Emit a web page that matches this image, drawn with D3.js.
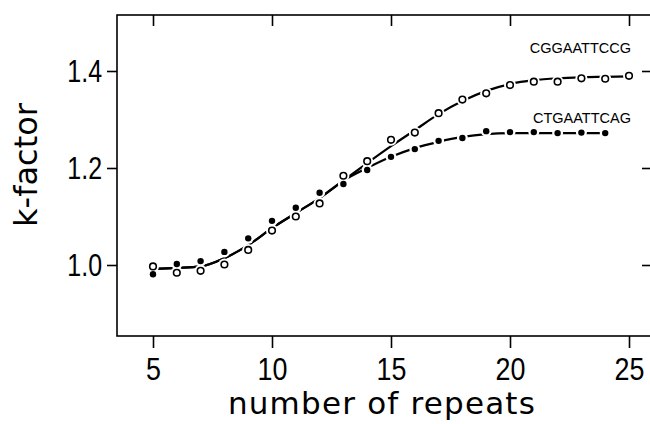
<!DOCTYPE html>
<html><head><meta charset="utf-8">
<script src="https://cdn.jsdelivr.net/npm/d3@7"></script>
<style>body{margin:0;background:#fff}svg{display:block}</style>
</head><body>
<svg id="c" width="650" height="424"></svg>
<script>
// ---- data ----
const repeatsCG = [5,6,7,8,9,10,11,12,13,14,15,16,17,18,19,20,21,22,23,24,25];
const kCG = [0.997,0.984,0.988,1.001,1.031,1.071,1.100,1.127,1.184,1.214,1.258,1.273,1.313,1.341,1.354,1.371,1.378,1.378,1.385,1.384,1.390];
const fitCG = [0.992,0.994,0.997,1.014,1.041,1.076,1.107,1.138,1.174,1.210,1.245,1.278,1.311,1.338,1.359,1.373,1.381,1.385,1.387,1.388,1.389];
const repeatsCT = [5,6,7,8,9,10,11,12,13,14,15,16,17,18,19,20,21,22,23,24];
const kCT = [0.981,1.002,1.008,1.027,1.055,1.091,1.118,1.149,1.167,1.196,1.223,1.239,1.256,1.262,1.276,1.274,1.274,1.272,1.273,1.272];
const fitCT = [0.992,0.994,0.997,1.014,1.041,1.076,1.107,1.138,1.174,1.200,1.223,1.241,1.254,1.264,1.270,1.272,1.272,1.272,1.272,1.272];
const xTicks = [5,10,15,20,25];
const yTicks = [1.0,1.2,1.4];
const labelCG = "CGGAATTCCG", labelCT = "CTGAATTCAG";

// ---- layout ----
const svg = d3.select("#c");
const L = 117, R = 652, T = 15, B = 336;
const x = d3.scaleLinear().domain([5,25]).range([153,629]);
const y = d3.scaleLinear().domain([1.0,1.4]).range([265,71]);
const tickFont = "'Liberation Sans',Arial,sans-serif";

function narrow(sel, f){
  sel.each(function(){
    const w = this.getComputedTextLength();
    d3.select(this).attr("textLength", w*f).attr("lengthAdjust","spacingAndGlyphs");
  });
}

svg.append("rect").attr("x",L).attr("y",T).attr("width",R-L).attr("height",B-T)
  .attr("fill","none").attr("stroke","#000").attr("stroke-width",1.6);

// bottom axis (outside ticks)
const gB = svg.append("g").attr("transform",`translate(0,${B})`)
  .call(d3.axisBottom(x).tickValues(xTicks).tickSize(12).tickPadding(9).tickFormat(d3.format("d")));
gB.select(".domain").remove();
gB.selectAll("line").attr("stroke-width",1.6);
gB.selectAll("text").attr("font-family",tickFont).attr("font-size",32).attr("fill","#000").call(narrow,0.84);
// top axis (inside ticks)
const gT = svg.append("g").attr("transform",`translate(0,${T})`)
  .call(d3.axisTop(x).tickValues(xTicks).tickSize(-11).tickFormat(""));
gT.select(".domain").remove();
gT.selectAll("line").attr("stroke-width",1.6);
// left axis (outside ticks)
const gL = svg.append("g").attr("transform",`translate(${L},0)`)
  .call(d3.axisLeft(y).tickValues(yTicks).tickSize(10).tickPadding(5).tickFormat(d3.format(".1f")));
gL.select(".domain").remove();
gL.selectAll("line").attr("stroke-width",1.6);
gL.selectAll("text").attr("font-family",tickFont).attr("font-size",32).attr("fill","#000").call(narrow,0.78);
// right axis (inside ticks)
const gR = svg.append("g").attr("transform",`translate(650,0)`)
  .call(d3.axisRight(y).tickValues(yTicks).tickSize(-8).tickFormat(""));
gR.select(".domain").remove();
gR.selectAll("line").attr("stroke-width",1.6);

// titles
svg.append("text").attr("x",382).attr("y",414).attr("text-anchor","middle")
  .attr("font-family","'DejaVu Sans',sans-serif").attr("font-size",31)
  .attr("letter-spacing",1.2).text("number of repeats");
svg.append("text").attr("transform","translate(37,165) rotate(-90)").attr("text-anchor","middle")
  .attr("font-family","'DejaVu Sans',sans-serif").attr("font-size",32).text("k-factor");

// curves
const line = d3.line().x(d=>x(d[0])).y(d=>y(d[1])).curve(d3.curveMonotoneX);
const cgFit = repeatsCG.map((r,i)=>[r,fitCG[i]]);
const ctFit = repeatsCT.map((r,i)=>[r,fitCT[i]]);
[cgFit, ctFit].forEach(p=>{
  svg.append("path").attr("d",line(p)).attr("fill","none").attr("stroke","#000").attr("stroke-width",2.2);
});

const cgPts = repeatsCG.map((r,i)=>({x:r,y:kCG[i],open:true}));
const ctPts = repeatsCT.map((r,i)=>({x:r,y:kCT[i],open:false}));
const all = cgPts.concat(ctPts);
// white halos to break the lines at the markers
svg.append("g").selectAll("circle").data(all).join("circle")
  .attr("cx",d=>x(d.x)).attr("cy",d=>y(d.y)).attr("r",d=>d.open?6:5.5).attr("fill","#fff");
svg.append("g").selectAll("circle").data(ctPts).join("circle")
  .attr("cx",d=>x(d.x)).attr("cy",d=>y(d.y)).attr("r",3.2).attr("fill","#000");
svg.append("g").selectAll("circle").data(cgPts).join("circle")
  .attr("cx",d=>x(d.x)).attr("cy",d=>y(d.y)).attr("r",3.3).attr("fill","#fff")
  .attr("stroke","#000").attr("stroke-width",1.6);

// series labels
svg.append("text").attr("x",631).attr("y",53).attr("text-anchor","end")
  .attr("font-family","'Liberation Sans',Arial,sans-serif").attr("font-size",14.5).text(labelCG);
svg.append("text").attr("x",631).attr("y",123).attr("text-anchor","end")
  .attr("font-family","'Liberation Sans',Arial,sans-serif").attr("font-size",14.5).text(labelCT);
</script>
</body></html>
